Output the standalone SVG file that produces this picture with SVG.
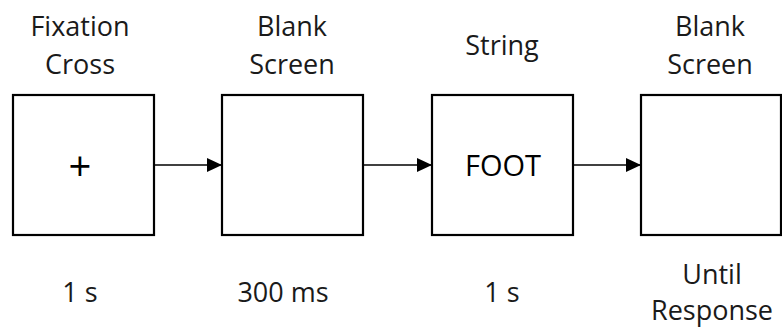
<svg xmlns="http://www.w3.org/2000/svg" width="782" height="327" viewBox="0 0 782 327">
<style>
.box{fill:#fff;stroke:#000;stroke-width:2.2}
.lbl{font-family:"Open Sans","Liberation Sans",sans-serif;font-size:27px;fill:#1a1a1a;text-anchor:middle}
.in{font-family:"Open Sans","Liberation Sans",sans-serif;font-size:29px;fill:#000;text-anchor:middle}
.plus{font-family:"Open Sans","Liberation Sans",sans-serif;font-size:40px;fill:#000;text-anchor:middle}
.con{stroke:#000;stroke-width:1.5;fill:none}
</style>
<defs>
<marker id="ah" markerWidth="16" markerHeight="14" refX="15" refY="7" orient="auto" markerUnits="userSpaceOnUse">
<path d="M0,0 L15,7 L0,14 Z" fill="#000"/>
</marker>
</defs>
<rect width="782" height="327" fill="#fff"/>
<g id="node1">
<text class="lbl" x="80" y="36">Fixation</text>
<text class="lbl" x="80" y="74">Cross</text>
<rect class="box" x="13" y="95" width="141" height="140"/>
<text class="plus" x="80" y="181">+</text>
<text class="lbl" x="80" y="302">1 s</text>
</g>
<g id="node2">
<text class="lbl" x="292" y="36">Blank</text>
<text class="lbl" x="292" y="74">Screen</text>
<rect class="box" x="222" y="95" width="141" height="140"/>
<text class="lbl" x="283" y="302">300 ms</text>
</g>
<g id="node3">
<text class="lbl" x="502" y="55">String</text>
<rect class="box" x="432" y="95" width="141" height="140"/>
<text class="in" x="503" y="176">FOOT</text>
<text class="lbl" x="502" y="302">1 s</text>
</g>
<g id="node4">
<text class="lbl" x="710" y="36">Blank</text>
<text class="lbl" x="710" y="74">Screen</text>
<rect class="box" x="641" y="95" width="140" height="140"/>
<text class="lbl" x="712" y="284">Until</text>
<text class="lbl" x="712" y="320">Response</text>
</g>
<g id="connectors">
<line class="con" x1="154" y1="165" x2="222" y2="165" marker-end="url(#ah)"/>
<line class="con" x1="363" y1="165" x2="432" y2="165" marker-end="url(#ah)"/>
<line class="con" x1="573" y1="165" x2="641" y2="165" marker-end="url(#ah)"/>
</g>
</svg>
